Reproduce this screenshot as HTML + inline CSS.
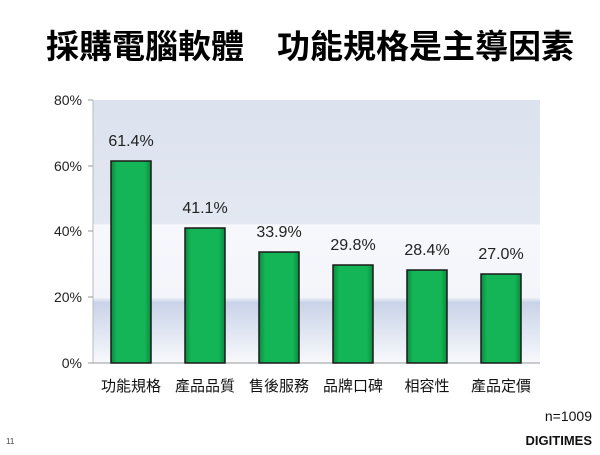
<!DOCTYPE html>
<html><head><meta charset="utf-8"><style>
body{margin:0;width:600px;height:450px;background:#fff;overflow:hidden;font-family:"Liberation Sans","Noto Sans CJK TC",sans-serif;}
</style></head><body>
<svg width="600" height="450" xmlns="http://www.w3.org/2000/svg" font-family="Liberation Sans, Noto Sans CJK TC, sans-serif">
<defs>
<linearGradient id="bg" x1="0" y1="0" x2="0" y2="1">
<stop offset="0" stop-color="#dce2ee"/>
<stop offset="0.47" stop-color="#e3e8f2"/>
<stop offset="0.475" stop-color="#f7f8fc"/>
<stop offset="0.75" stop-color="#f3f5fa"/>
<stop offset="0.77" stop-color="#c9d3e8"/>
<stop offset="1" stop-color="#f8f9fc"/>
</linearGradient>
<linearGradient id="bar" x1="0" y1="0" x2="1" y2="0">
<stop offset="0" stop-color="#0a8a3e"/><stop offset="0.15" stop-color="#14b557"/>
<stop offset="0.85" stop-color="#14b557"/><stop offset="1" stop-color="#0a8a3e"/>
</linearGradient>
</defs>
<text x="310" y="58" text-anchor="middle" font-size="33" font-weight="bold" fill="#000">採購電腦軟體　功能規格是主導因素</text>
<rect x="93" y="100" width="447" height="263" fill="url(#bg)"/>
<line x1="93" y1="100" x2="93" y2="363" stroke="#bbb"/>
<line x1="93" y1="363" x2="540" y2="363" stroke="#999"/>
<g font-size="14" fill="#222" text-anchor="end">
<text x="82" y="105">80%</text><text x="82" y="171">60%</text><text x="82" y="236">40%</text><text x="82" y="302">20%</text><text x="82" y="368">0%</text>
</g>
<g stroke="#999"><line x1="88" y1="100" x2="93" y2="100"/><line x1="88" y1="166" x2="93" y2="166"/><line x1="88" y1="231" x2="93" y2="231"/><line x1="88" y1="297" x2="93" y2="297"/><line x1="88" y1="363" x2="93" y2="363"/></g>
<g stroke="#1a1a1a" stroke-width="1.5" fill="url(#bar)">
<rect x="111" y="161" width="40" height="202"/>
<rect x="185" y="228" width="40" height="135"/>
<rect x="259" y="252" width="40" height="111"/>
<rect x="333" y="265" width="40" height="98"/>
<rect x="407" y="270" width="40" height="93"/>
<rect x="481" y="274" width="40" height="89"/>
</g>
<g font-size="16" fill="#222" text-anchor="middle">
<text x="131" y="146">61.4%</text><text x="205" y="213">41.1%</text><text x="279" y="237">33.9%</text>
<text x="353" y="250">29.8%</text><text x="427" y="255">28.4%</text><text x="501" y="259">27.0%</text>
</g>
<g font-size="15" fill="#111" text-anchor="middle">
<text x="131" y="391">功能規格</text><text x="205" y="391">產品品質</text><text x="279" y="391">售後服務</text>
<text x="353" y="391">品牌口碑</text><text x="427" y="391">相容性</text><text x="501" y="391">產品定價</text>
</g>
<text x="592" y="421" text-anchor="end" font-size="14" fill="#111">n=1009</text>
<text x="592" y="445" text-anchor="end" font-size="13" font-weight="bold" fill="#111">DIGITIMES</text>
<text x="6" y="444" font-size="8" fill="#444">11</text>
</svg>
</body></html>
